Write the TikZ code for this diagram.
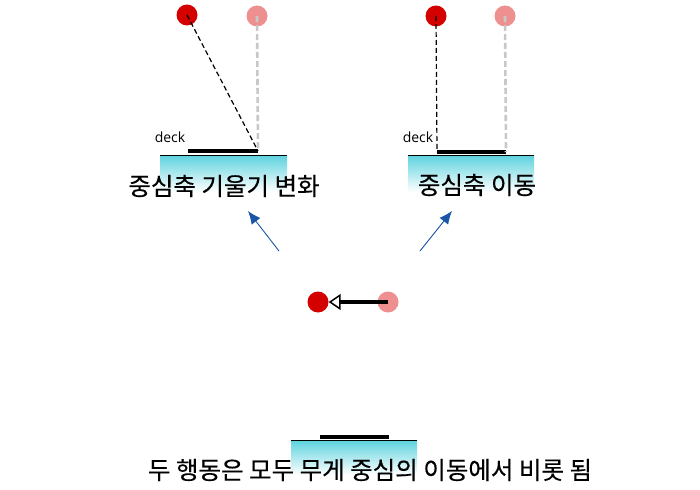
\documentclass[tikz,border=0pt]{standalone}
\usepackage{fontspec}
\newfontfamily\krfont[FakeBold=0.4]{Noto Sans CJK KR}
\newfontfamily\labelfont{Open Sans}
\usetikzlibrary{arrows.meta}
\definecolor{dotred}{HTML}{D40000}
\definecolor{dotpink}{HTML}{EE9090}
\definecolor{lightgray}{HTML}{C8C8C8}
\definecolor{tiltblue}{HTML}{1A56A8}
\definecolor{decking}{HTML}{5CD2DE}

\begin{document}
\begin{tikzpicture}[x=1pt,y=-1pt]
    \tikzstyle{reddot}=[circle,fill=dotred,minimum size=21pt,inner sep=0pt]
    \tikzstyle{pinkdot}=[circle,fill=dotpink,minimum size=21pt,inner sep=0pt]
    \tikzstyle{plumb}=[black,line width=1.2pt,dash pattern=on 5pt off 3pt]
    \tikzstyle{ghost}=[lightgray,line width=2.6pt,dash pattern=on 6pt off 3pt]
    \tikzstyle{bar}=[black,line width=3.5pt]
    \tikzstyle{tilt}=[tiltblue,line width=0.9pt,-{Latex[length=13pt,width=11pt]}]
    \tikzstyle{caption}=[font=\krfont\fontsize{24.5}{28}\selectfont,inner sep=0pt]
    \tikzstyle{decklabel}=[font=\labelfont\fontsize{14}{16}\selectfont,inner sep=0pt]
    \useasboundingbox (0,0) rectangle (700,489);
    % Decks
    \shade[top color=decking,bottom color=white] (160,155) rectangle (287,192);
    \shade[top color=decking,bottom color=white] (408,155) rectangle (534,192);
    \shade[top color=decking,bottom color=white] (291,440) rectangle (417,475);
    \draw[line width=1pt] (160,155) -- (287,155);
    \draw[line width=1pt] (408,155) -- (534,155);
    \draw[line width=1pt] (291,440) -- (417,440);
    % Left: tilt
    \node[reddot] (ltop) at (187,15) {};
    \node[pinkdot] (lref) at (257,16) {};
    \coordinate (lbarA) at (188,151);
    \coordinate (lbarB) at (258,151);
    \draw[bar] (lbarA) -- (lbarB);
    \draw[ghost] (lref.center) -- (lbarB);
    \draw[plumb] (ltop.center) -- (lbarB);
    \node[decklabel] (ldeck) at (170,137) {deck};
    \node[caption] (ltext) at (224,186) {중심축 기울기 변화};
    % Right: shift
    \node[reddot] (rtop) at (436,16) {};
    \node[pinkdot] (rref) at (505,16) {};
    \coordinate (rbarA) at (437,152);
    \coordinate (rbarB) at (506,152);
    \draw[bar] (rbarA) -- (rbarB);
    \draw[ghost] (rref.center) -- (rbarB);
    \draw[plumb] (rtop.center) -- (rbarA);
    \node[decklabel] (rdeck) at (418,137) {deck};
    \node[caption] (rtext) at (477,185) {중심축 이동};
    % Middle
    \coordinate (lfoot) at (279,251);
    \coordinate (lhead) at (248,211);
    \coordinate (rfoot) at (420,251);
    \coordinate (rhead) at (452,211);
    \draw[tilt] (lfoot) -- (lhead);
    \draw[tilt] (rfoot) -- (rhead);
    \node[reddot] (mnew) at (318,302) {};
    \node[pinkdot] (mold) at (388,302) {};
    \draw[line width=3.5pt,-{Triangle[open,length=12pt,width=16pt,line width=1.5pt]}]
        (mold.center) -- (mnew.east);
    % Bottom
    \coordinate (bbarA) at (320,437);
    \coordinate (bbarB) at (389,437);
    \draw[bar] (bbarA) -- (bbarB);
    \node[caption] (btext) at (370,470) {두 행동은 모두 무게 중심의 이동에서 비롯 됨};
\end{tikzpicture}
\end{document}
